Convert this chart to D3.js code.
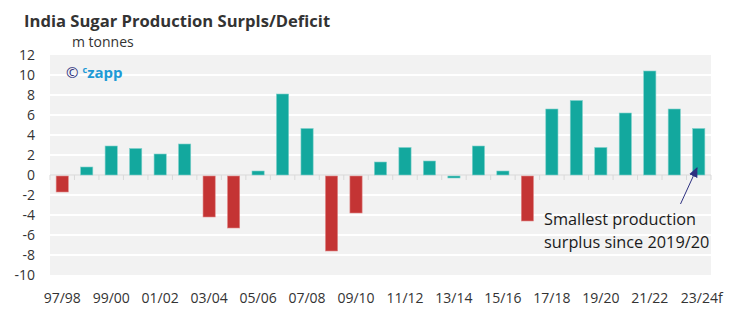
<!DOCTYPE html>
<html><head><meta charset="utf-8">
<script src="https://cdn.jsdelivr.net/npm/d3@7"></script>
<style>body{margin:0;background:#fff}svg{display:block;font-family:"Open Sans",sans-serif}</style>
</head><body><svg id="c" width="750" height="331"></svg>
<script>
const seasons = ["97/98","98/99","99/00","00/01","01/02","02/03","03/04","04/05","05/06","06/07","07/08","08/09","09/10","10/11","11/12","12/13","13/14","14/15","15/16","16/17","17/18","18/19","19/20","20/21","21/22","22/23","23/24f"];
const values = [-1.7,0.8,2.9,2.65,2.1,3.1,-4.2,-5.3,0.4,8.1,4.65,-7.6,-3.8,1.3,2.75,1.4,-0.3,2.9,0.4,-4.6,6.6,7.45,2.75,6.2,10.4,6.6,4.65];
const yTicks = [12,10,8,6,4,2,0,-2,-4,-6,-8,-10];
const xLabels = ["97/98","99/00","01/02","03/04","05/06","07/08","09/10","11/12","13/14","15/16","17/18","19/20","21/22","23/24f"];

const svg = d3.select("#c");
const L=50,R=711,T=55,B=275;
const xe = d3.scaleBand().domain(seasons).range([L,R]);
const y = d3.scaleLinear().domain([-10,12]).range([B,T]);

svg.append("rect").attr("x",L).attr("y",T).attr("width",R-L).attr("height",B-T).attr("fill","#f2f2f2");
svg.append("g").selectAll("line").data(yTicks.filter(d=>d!==0 && d!==12 && d!==-10)).join("line")
  .attr("x1",L).attr("x2",R).attr("y1",d=>y(d)).attr("y2",d=>y(d)).attr("stroke","#fff").attr("stroke-width",2);

svg.append("g").selectAll("text").data(yTicks).join("text")
  .attr("x",35).attr("y",d=>y(d)+5).attr("text-anchor","end").attr("font-size",14).attr("fill","#333").text(d=>d);

svg.append("line").attr("x1",L).attr("x2",R).attr("y1",y(0)).attr("y2",y(0)).attr("stroke","#d9d9d9").attr("stroke-width",1);
svg.append("g").selectAll("line").data(d3.range(seasons.length+1)).join("line")
  .attr("x1",i=>L+i*xe.bandwidth()).attr("x2",i=>L+i*xe.bandwidth())
  .attr("y1",y(0)).attr("y2",y(0)+5).attr("stroke","#d9d9d9");

const isDeficit = d => d < -0.5;
svg.append("g").selectAll("rect").data(values).join("rect")
  .attr("x",(d,i)=>xe(seasons[i])+(xe.bandwidth()-12.2)/2)
  .attr("width",12.2)
  .attr("y",d=>d>=0?y(d):y(0)+1)
  .attr("height",d=>Math.abs(y(d)-y(0)) - (d<0?1:0))
  .attr("fill",d=>isDeficit(d)?"#c43434":"#13a89e")
  .attr("stroke",d=>isDeficit(d)?"#e08a8a":"#7fd1cb").attr("stroke-width",0.6);

svg.append("g").selectAll("text").data(xLabels).join("text")
  .attr("x",d=>xe(d)+xe.bandwidth()/2+(d.endsWith("f")?3:0))
  .attr("y",303).attr("text-anchor","middle").attr("font-size",14).attr("fill","#333").text(d=>d);

svg.append("text").attr("x",24).attr("y",27).attr("font-size",16.6).attr("font-weight","bold").attr("fill","#333").text("India Sugar Production Surpls/Deficit");
svg.append("text").attr("x",72).attr("y",47).attr("font-size",14).attr("fill","#333").text("m tonnes");

const lg = svg.append("text").attr("x",66).attr("y",78).attr("font-size",15);
lg.append("tspan").attr("fill","#2e3180").text("©");
lg.append("tspan").attr("fill","#1e9ad6").attr("font-weight","bold").attr("font-size",9).attr("dx",4).attr("dy",-5).text("c");
lg.append("tspan").attr("fill","#1e9ad6").attr("font-weight","bold").attr("font-size",15).attr("dy",5).text("zapp");

const ann = svg.append("text").attr("font-size",16.3).attr("fill","#1a1a1a");
ann.append("tspan").attr("x",544).attr("y",225).text("Smallest production");
ann.append("tspan").attr("x",544).attr("y",248).text("surplus since 2019/20");
svg.append("defs").append("marker").attr("id","ah").attr("viewBox","0 0 10 10").attr("refX",9).attr("refY",5)
  .attr("markerWidth",10).attr("markerHeight",10).attr("orient","auto")
  .append("path").attr("d","M0,0.5L10,5L0,9.5Z").attr("fill","#2e3180");
svg.append("line").attr("x1",680.5).attr("y1",204).attr("x2",697).attr("y2",168)
  .attr("stroke","#2e3180").attr("stroke-width",1).attr("marker-end","url(#ah)");
</script></body></html>
